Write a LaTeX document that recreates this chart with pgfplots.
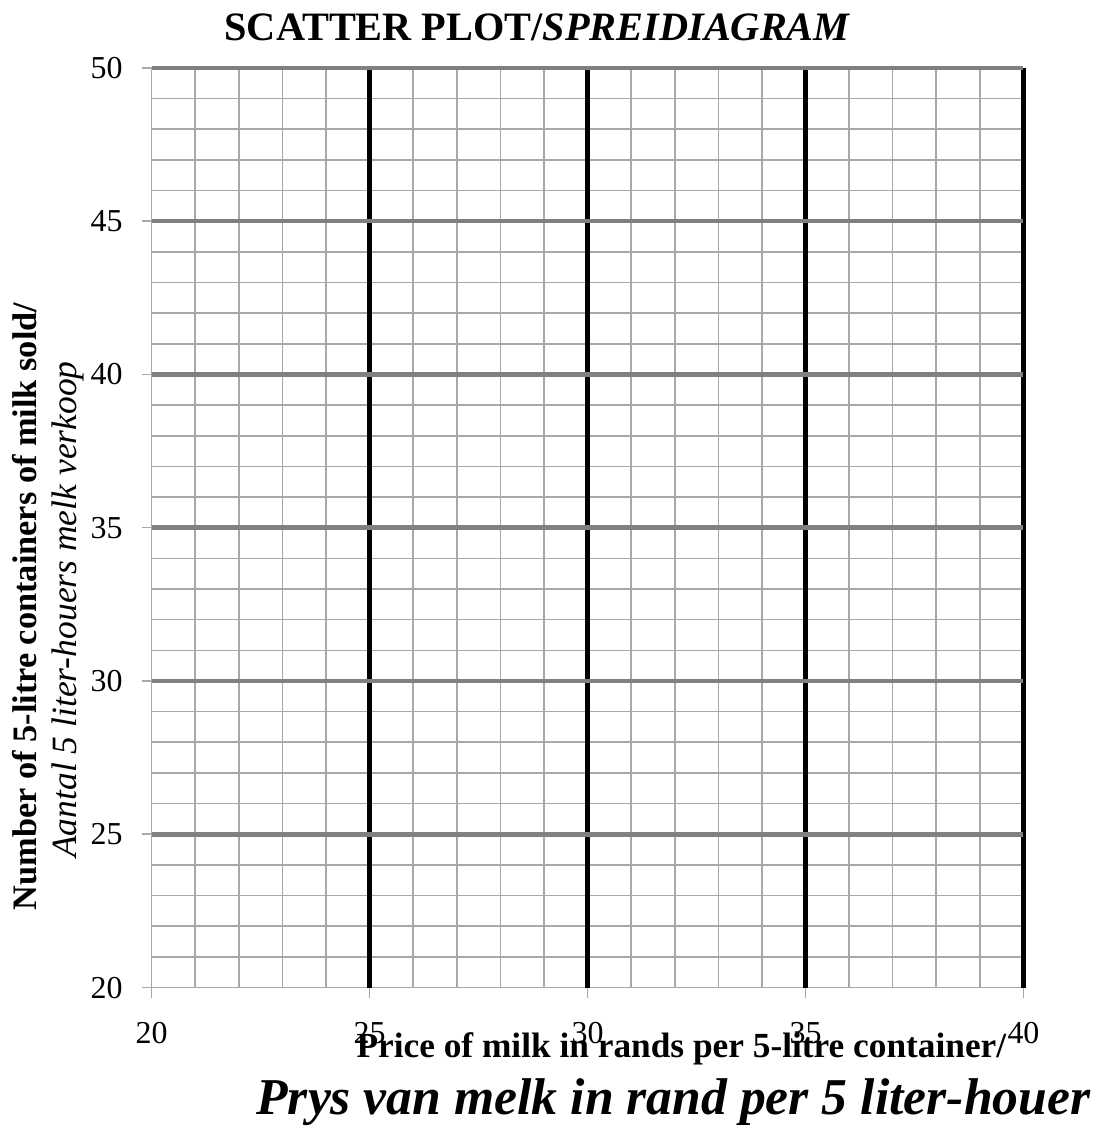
\documentclass[border=0pt]{standalone}
\usepackage{fontspec}
\setmainfont{Liberation Serif}
\usepackage{pgfplots}
\pgfplotsset{compat=1.18}
\definecolor{majgray}{HTML}{808080}
\definecolor{mingray}{HTML}{A8A8A8}
\begin{document}
\begin{tikzpicture}
\begin{axis}[
  scale only axis,
  width=437pt, height=461pt,
  xmin=20, xmax=40, ymin=20, ymax=50,
  axis lines*=left,
  axis line style={mingray, line width=0.8pt},
  xtick={20,25,...,40}, ytick={20,25,...,50},
  minor x tick num=4, minor y tick num=4,
  xminorgrids, yminorgrids,
  minor grid style={mingray, line width=0.8pt},
  minor tick length=0pt,
  major tick length=5pt,
  tick align=outside,
  tick style={mingray, line width=0.8pt},
  extra x ticks={25,30,35,40},
  extra x tick labels={},
  extra x tick style={grid=major, major grid style={black, line width=2.7pt}, major tick length=0pt},
  extra y ticks={25,30,...,50},
  extra y tick labels={},
  extra y tick style={grid=major, major grid style={majgray, line width=2.3pt}, major tick length=0pt},
  /pgf/number format/assume math mode=true,
  ticklabel style={font=\fontsize{16}{18}\selectfont},
  yticklabel shift=6pt,
  xticklabel shift=9pt,
  clip=false,
]
\node[anchor=base, font=\fontsize{20.2}{24}\selectfont\bfseries] at (rel axis cs:0.4428,1.0293) {SCATTER PLOT/\textit{SPREIDIAGRAM}};
\node[anchor=base, font=\fontsize{17.7}{20}\selectfont\bfseries] at (rel axis cs:0.6076,-0.0759) {Price of milk in rands per 5-litre container/};
\node[anchor=base, font=\fontsize{25.9}{29}\selectfont\bfseries\itshape] at (rel axis cs:0.5984,-0.1377) {Prys van melk in rand per 5 liter-houer};
\node[anchor=base, rotate=90, font=\fontsize{17.2}{20}\selectfont\bfseries] at (rel axis cs:-0.1316,0.4143) {Number of 5-litre containers of milk sold/};
\node[anchor=base, rotate=90, font=\fontsize{17.8}{20}\selectfont\itshape] at (rel axis cs:-0.0858,0.411) {Aantal 5 liter-houers melk verkoop};
\end{axis}
\path[use as bounding box] (-76pt,-71pt) rectangle (475.5pt,495pt);
\end{tikzpicture}
\end{document}
